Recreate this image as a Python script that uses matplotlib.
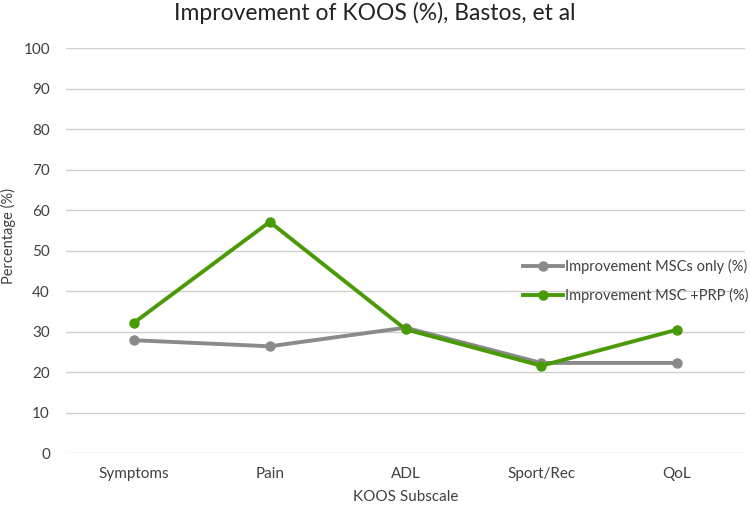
import matplotlib
matplotlib.use("Agg")
import matplotlib.pyplot as plt

categories = ["Symptoms", "Pain", "ADL", "Sport/Rec", "QoL"]
msc_only = [27.9, 26.4, 31.0, 22.3, 22.3]
msc_prp = [32.2, 57.1, 30.6, 21.6, 30.5]
series_names = ["Improvement MSCs only (%)", "Improvement MSC +PRP (%)"]
yticks = [0, 10, 20, 30, 40, 50, 60, 70, 80, 90, 100]

plt.rcParams['font.family'] = ['Lato', 'DejaVu Sans']
txt = '#404040'

fig = plt.figure(figsize=(7.5, 5.11), dpi=100)
ax = fig.add_axes([66/750, 1-453.3/511, (745-66)/750, (453.3-48)/511])

x = list(range(len(categories)))
ax.plot(x, msc_only, color='#8a8a8a', lw=2.8, marker='o', ms=6.5, label=series_names[0], zorder=3)
ax.plot(x, msc_prp, color='#4a9a08', lw=2.8, marker='o', ms=6.5, label=series_names[1], zorder=4)

ax.set_xlim(-0.5, len(categories) - 0.5)
ax.set_ylim(0, 100)
ax.set_yticks(yticks)
ax.set_xticks(x)
ax.set_xticklabels(categories)
ax.grid(axis='y', color='#d0d0d0', lw=1)
ax.set_axisbelow(True)
for s in ax.spines.values():
    s.set_visible(False)
ax.tick_params(axis='both', length=0, labelsize=11, colors=txt)
ax.tick_params(axis='x', pad=10)
ax.tick_params(axis='y', pad=11.5)

ax.set_xlabel("KOOS Subscale", fontsize=11, color=txt, labelpad=6)
ax.set_ylabel("Percentage (%)", fontsize=10.5, color=txt, va='center')
ax.yaxis.set_label_coords(-0.084, 0.536)
fig.suptitle("Improvement of KOOS (%), Bastos, et al", fontsize=16.5, color='#222222', y=0.997)

leg = ax.legend(loc='center right', bbox_to_anchor=(1.005, 0.425), frameon=False,
                fontsize=10.5, handlelength=2.75, handletextpad=0.1, labelspacing=1.0,
                borderaxespad=0, borderpad=0)
for t in leg.get_texts():
    t.set_color(txt)

fig.savefig("out.png", dpi=100)
